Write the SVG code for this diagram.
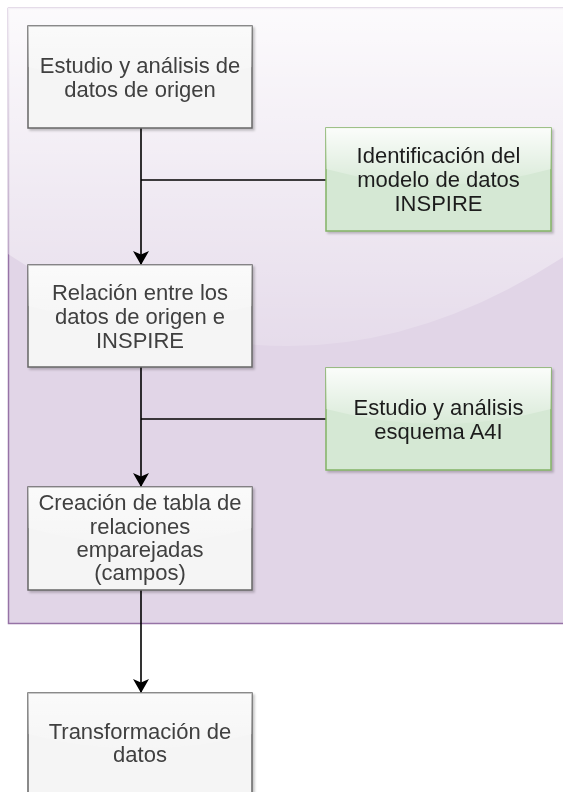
<svg xmlns="http://www.w3.org/2000/svg" width="563" height="792" viewBox="0 0 563 792">
  <defs>
    <linearGradient id="glassC" gradientUnits="userSpaceOnUse" x1="0" y1="8" x2="0" y2="377">
      <stop offset="0" stop-color="#ffffff" stop-opacity="0.9"/>
      <stop offset="1" stop-color="#ffffff" stop-opacity="0.1"/>
    </linearGradient>
    <linearGradient id="glassB" x1="0" y1="0" x2="0" y2="1">
      <stop offset="0" stop-color="#ffffff" stop-opacity="0.9"/>
      <stop offset="1" stop-color="#ffffff" stop-opacity="0.1"/>
    </linearGradient>
    <filter id="shadow" x="-10%" y="-10%" width="130%" height="130%">
      <feDropShadow dx="2" dy="2" stdDeviation="1.2" flood-color="#000" flood-opacity="0.22"/>
    </filter>
    <marker id="arrow" viewBox="0 0 14 16" refX="13" refY="8" markerWidth="14" markerHeight="16" markerUnits="userSpaceOnUse" orient="auto">
      <path d="M0,0 L14,8 L0,16 L3.5,8 Z" fill="#000"/>
    </marker>
    <style>
      .gray { fill: #f5f5f5; stroke: #666666; stroke-width: 1.5; }
      .green { fill: #d5e8d4; stroke: #82b366; stroke-width: 1.5; }
      .lbl { font-family: "Liberation Sans", Arial, sans-serif; font-size: 22px; text-anchor: middle; }
      .lg { fill: #404040; }
      .lgr { fill: #1e1e1e; }
      .edge { fill: none; stroke: #000; stroke-width: 1.6; }
    </style>
  </defs>

  <g id="container">
    <rect x="8.5" y="8.5" width="556" height="615" fill="#e1d5e7" stroke="#9673a6" stroke-width="1.5"/>
    <path d="M8,8 L8,254 Q288,438 568,254 L568,8 Z" fill="url(#glassC)"/>
  </g>

  <g id="connectors">
    <line class="edge" x1="141" y1="128" x2="141" y2="264" marker-end="url(#arrow)"/>
    <line class="edge" x1="326" y1="180" x2="141" y2="180"/>
    <line class="edge" x1="141" y1="367" x2="141" y2="486" marker-end="url(#arrow)"/>
    <line class="edge" x1="326" y1="419" x2="141" y2="419"/>
    <line class="edge" x1="141" y1="590" x2="141" y2="692" marker-end="url(#arrow)"/>
  </g>

  <g id="n1" filter="url(#shadow)">
    <rect class="gray" x="28" y="26" width="224" height="102"/>
    <path d="M28,26 L28,67 Q140,97 252,67 L252,26 Z" fill="url(#glassB)" opacity="0.6"/>
    <text class="lbl lg" x="140" y="73">Estudio y análisis de</text>
    <text class="lbl lg" x="140" y="97">datos de origen</text>
  </g>

  <g id="g1" filter="url(#shadow)">
    <rect class="green" x="326" y="128" width="225" height="103"/>
    <path d="M326,128 L326,169 Q438.5,200 551,169 L551,128 Z" fill="url(#glassB)"/>
    <text class="lbl lgr" x="438.5" y="163">Identificación del</text>
    <text class="lbl lgr" x="438.5" y="187">modelo de datos</text>
    <text class="lbl lgr" x="438.5" y="211">INSPIRE</text>
  </g>

  <g id="n2" filter="url(#shadow)">
    <rect class="gray" x="28" y="265" width="224" height="102"/>
    <path d="M28,265 L28,306 Q140,336 252,306 L252,265 Z" fill="url(#glassB)" opacity="0.6"/>
    <text class="lbl lg" x="140" y="300">Relación entre los</text>
    <text class="lbl lg" x="140" y="324">datos de origen e</text>
    <text class="lbl lg" x="140" y="348">INSPIRE</text>
  </g>

  <g id="g2" filter="url(#shadow)">
    <rect class="green" x="326" y="368" width="225" height="102"/>
    <path d="M326,368 L326,409 Q438.5,439 551,409 L551,368 Z" fill="url(#glassB)"/>
    <text class="lbl lgr" x="438.5" y="415">Estudio y análisis</text>
    <text class="lbl lgr" x="438.5" y="439">esquema A4I</text>
  </g>

  <g id="n3" filter="url(#shadow)">
    <rect class="gray" x="28" y="487" width="224" height="103"/>
    <path d="M28,487 L28,528 Q140,559 252,528 L252,487 Z" fill="url(#glassB)" opacity="0.6"/>
    <text class="lbl lg" x="140" y="510">Creación de tabla de</text>
    <text class="lbl lg" x="140" y="534">relaciones</text>
    <text class="lbl lg" x="140" y="557">emparejadas</text>
    <text class="lbl lg" x="140" y="580">(campos)</text>
  </g>

  <g id="n4" filter="url(#shadow)">
    <rect class="gray" x="28" y="693" width="224" height="102"/>
    <path d="M28,693 L28,734 Q140,764 252,734 L252,693 Z" fill="url(#glassB)" opacity="0.6"/>
    <text class="lbl lg" x="140" y="739">Transformación de</text>
    <text class="lbl lg" x="140" y="762">datos</text>
  </g>
</svg>
